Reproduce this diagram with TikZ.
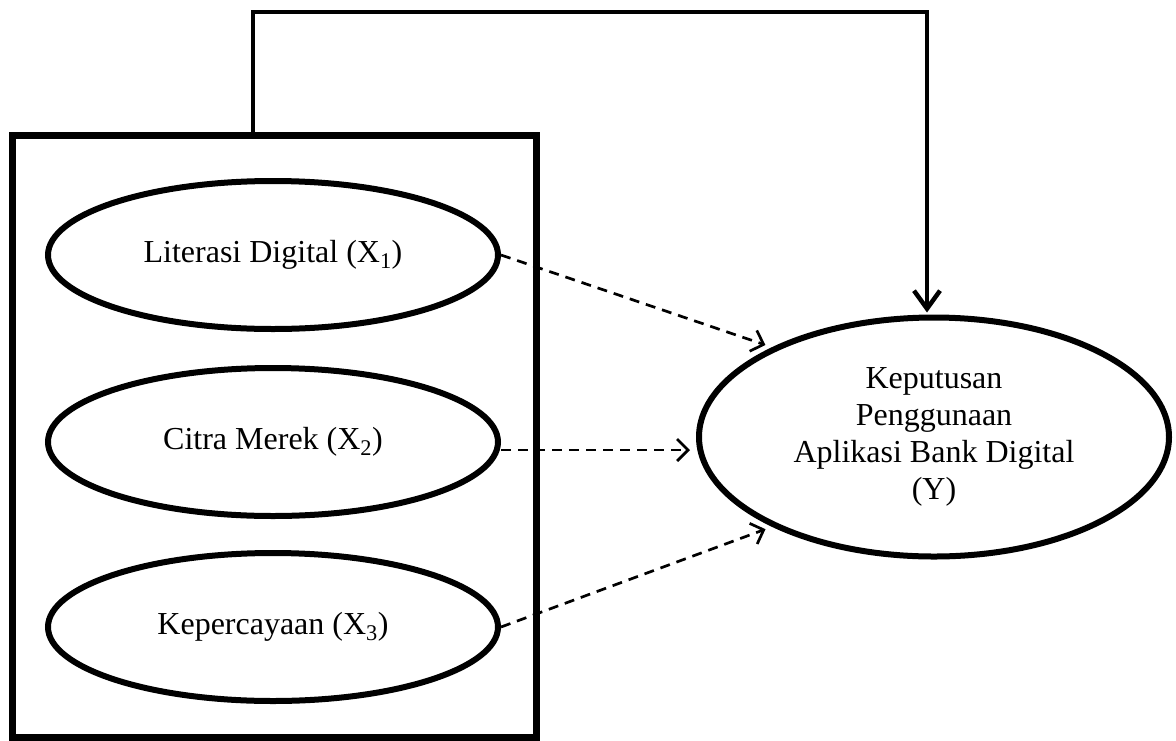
\documentclass[tikz,border=0pt]{standalone}
\usepackage{fontspec}
\setmainfont{Liberation Serif}
\usetikzlibrary{arrows.meta,shapes.geometric}
\begin{document}
\begin{tikzpicture}[x=1pt,y=-1pt,
  every node/.style={font=\fontsize{32}{37}\selectfont},
  var/.style={draw, ellipse, line width=6pt, inner sep=0pt,
    minimum width=450pt, minimum height=148pt, align=center},
  framebox/.style={draw, line width=7pt, inner sep=0pt,
    minimum width=524pt, minimum height=602pt},
  conn/.style={line width=4.5pt, line join=miter,
    -{Straight Barb[length=18pt,width=26pt,line width=4.5pt]}},
  dasharrow/.style={line width=2.7pt, dash pattern=on 10pt off 7pt,
    -{Straight Barb[length=11pt,width=22pt,line width=2.7pt]}}
]
\useasboundingbox (0,0) rectangle (1176,740);
\node[framebox] (box) at (274,436) {};
\node[var] (x1) at (273,255) {Literasi Digital (X\textsubscript{1})};
\node[var] (x2) at (273,442) {Citra Merek (X\textsubscript{2})};
\node[var] (x3) at (273,627) {Kepercayaan (X\textsubscript{3})};
\node[var, minimum width=470pt, minimum height=239pt] (y) at (934,437)
  {Keputusan\\Penggunaan\\Aplikasi Bank Digital\\(Y)};
\coordinate (tl) at (253,12);
\coordinate (tr) at (927,12);
\draw[conn, shorten >=2pt] (box.north -| tl) -- (tl) -- (tr) -- (tr |- y.north);
\draw[dasharrow, shorten >=7pt] (x1.east) -- (y.151);
\draw[dasharrow, shorten >=6pt] ([yshift=-8pt]x2.east) -- ([yshift=-8pt]x2.east -| y.west);
\draw[dasharrow, shorten >=7pt] (x3.east) -- (y.209);
\end{tikzpicture}
\end{document}
